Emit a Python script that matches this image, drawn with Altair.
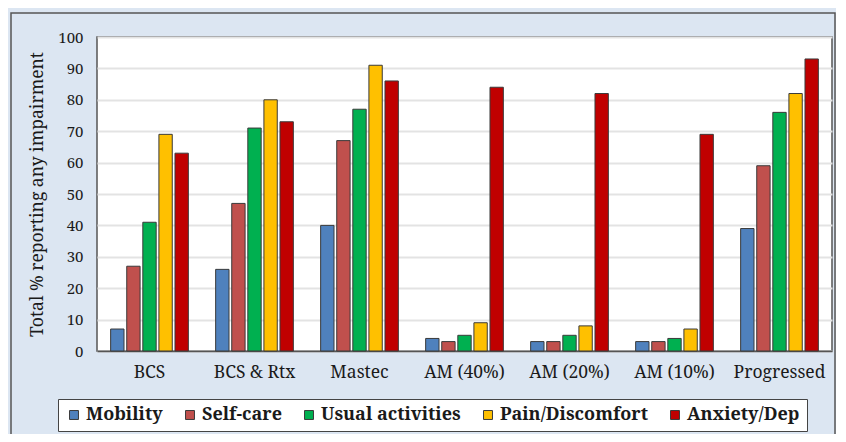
import altair as alt
import pandas as pd

groups = ["BCS", "BCS & Rtx", "Mastec", "AM (40%)", "AM (20%)", "AM (10%)", "Progressed"]
series = ["Mobility", "Self-care", "Usual activities", "Pain/Discomfort", "Anxiety/Dep"]
colors = ["#4F81BD", "#C0504D", "#00B050", "#FFC000", "#C00000"]

mobility = [7, 26, 40, 4, 3, 3, 39]
self_care = [27, 47, 67, 3, 3, 3, 59]
usual = [41, 71, 77, 5, 5, 4, 76]
pain = [69, 80, 91, 9, 8, 7, 82]
anxiety = [63, 73, 86, 84, 82, 69, 93]

rows = []
for s, vals in zip(series, [mobility, self_care, usual, pain, anxiety]):
    for g, v in zip(groups, vals):
        rows.append({"group": g, "series": s, "value": v})
df = pd.DataFrame(rows)

FONT = "Noto Serif"

bars = alt.Chart(df).mark_bar(stroke="#3a3a3a", strokeWidth=1).encode(
    x=alt.X("group:N", sort=groups, title=None,
            scale=alt.Scale(paddingInner=0.26, paddingOuter=0.13),
            axis=alt.Axis(labelAngle=0, labelFontSize=17.5, labelFont=FONT, labelColor="#1a1a1a",
                          ticks=False, labelPadding=12, domainColor="#555555", domainWidth=1.5)),
    xOffset=alt.XOffset("series:N", sort=series, scale=alt.Scale(paddingInner=0.17)),
    y=alt.Y("value:Q", title="Total %  reporting any impairment",
            scale=alt.Scale(domain=[0, 100]),
            axis=alt.Axis(values=list(range(0, 101, 10)), labelFontSize=15, labelFont=FONT,
                          labelColor="#1a1a1a", ticks=False, labelPadding=14, domain=False,
                          titleFont=FONT, titleFontSize=17.5, titleFontWeight="normal",
                          titleColor="#1a1a1a", titlePadding=11,
                          gridColor="#e3e3e3", gridWidth=2)),
    color=alt.Color("series:N", sort=series, title=None,
                    scale=alt.Scale(domain=series, range=colors),
                    legend=alt.Legend(orient="none", direction="horizontal",
                                      legendX=-39, legendY=362,
                                      fillColor="white", strokeColor="#444444",
                                      padding=7, symbolType="square", symbolSize=80,
                                      symbolStrokeColor="#3a3a3a", symbolStrokeWidth=1,
                                      labelFont=FONT, labelFontSize=18, labelFontWeight="bold",
                                      labelColor="#1a1a1a", columnPadding=18, labelOffset=3,
                                      titlePadding=0, symbolOffset=0)),
)

frame = alt.Chart(pd.DataFrame({"a": [0]})).mark_rect(
    fill=None, stroke="#555555", strokeWidth=1.5
).encode(x=alt.value(-86), x2=alt.value(738), y=alt.value(-24), y2=alt.value(440))

chart = alt.layer(frame, bars).properties(
    width=735, height=314,
    autosize=alt.AutoSizeParams(type="none"),
    padding={"left": 89, "top": 29, "right": 4, "bottom": 83},
    background="#DCE6F2",
).configure(font=FONT).configure_view(fill="white", stroke="#555555", strokeWidth=1.5)

chart.save("out.html", embed_options={"renderer": "svg", "actions": False})
